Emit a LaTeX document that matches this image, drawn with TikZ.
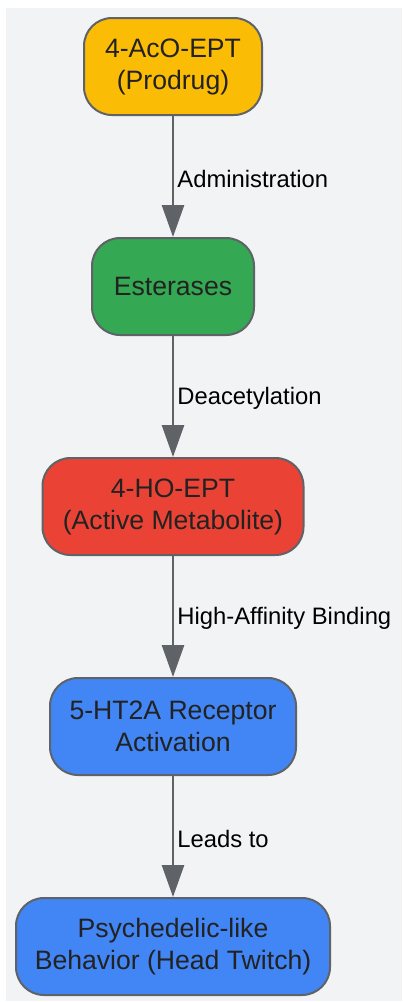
\documentclass[tikz,border=0pt]{standalone}
\usepackage{fontspec}
\setmainfont{Liberation Sans}
\usetikzlibrary{arrows.meta}
\definecolor{bg}{HTML}{F1F3F5}
\definecolor{edgec}{HTML}{5F6368}
\definecolor{txt}{HTML}{222222}
\definecolor{cyel}{HTML}{FBBC05}
\definecolor{cgrn}{HTML}{34A853}
\definecolor{cred}{HTML}{EA4335}
\definecolor{cblu}{HTML}{4285F4}
\tikzset{
  box/.style={draw=edgec, line width=2pt, rounded corners=28pt, minimum height=97pt,
    align=center, text=txt, font=\fontsize{26.6}{32}\selectfont, inner sep=0pt},
  conn/.style={draw=edgec, line width=2.8pt, -{Triangle[width=22pt,length=32pt]}},
  lbl/.style={anchor=west, inner sep=0pt, xshift=3pt, yshift=-2pt, text=black, font=\fontsize{23.8}{28}\selectfont}
}
\begin{document}
\begin{tikzpicture}[x=1pt,y=-1pt]
\useasboundingbox (0,0) rectangle (402,1002);
\fill[bg] (6,8) rectangle (402,1001);
\node[box, fill=cyel, minimum width=178pt] (n1) at (173,66.5) {4-AcO-EPT\\(Prodrug)};
\node[box, fill=cgrn, minimum width=162pt] (n2) at (173,286.5) {Esterases};
\node[box, fill=cred, minimum width=261pt] (n3) at (173,506.5) {4-HO-EPT\\(Active Metabolite)};
\node[box, fill=cblu, minimum width=246pt] (n4) at (173,726.5) {5-HT2A Receptor\\Activation};
\node[box, fill=cblu, minimum width=314pt] (n5) at (173,946.5) {Psychedelic-like\\Behavior (Head Twitch)};
\draw[conn] (n1) -- node[lbl] {Administration} (n2);
\draw[conn] (n2) -- node[lbl] {Deacetylation} (n3);
\draw[conn] (n3) -- node[lbl] {High-Affinity Binding} (n4);
\draw[conn] (n4) -- node[lbl] {Leads to} (n5);
\end{tikzpicture}
\end{document}
